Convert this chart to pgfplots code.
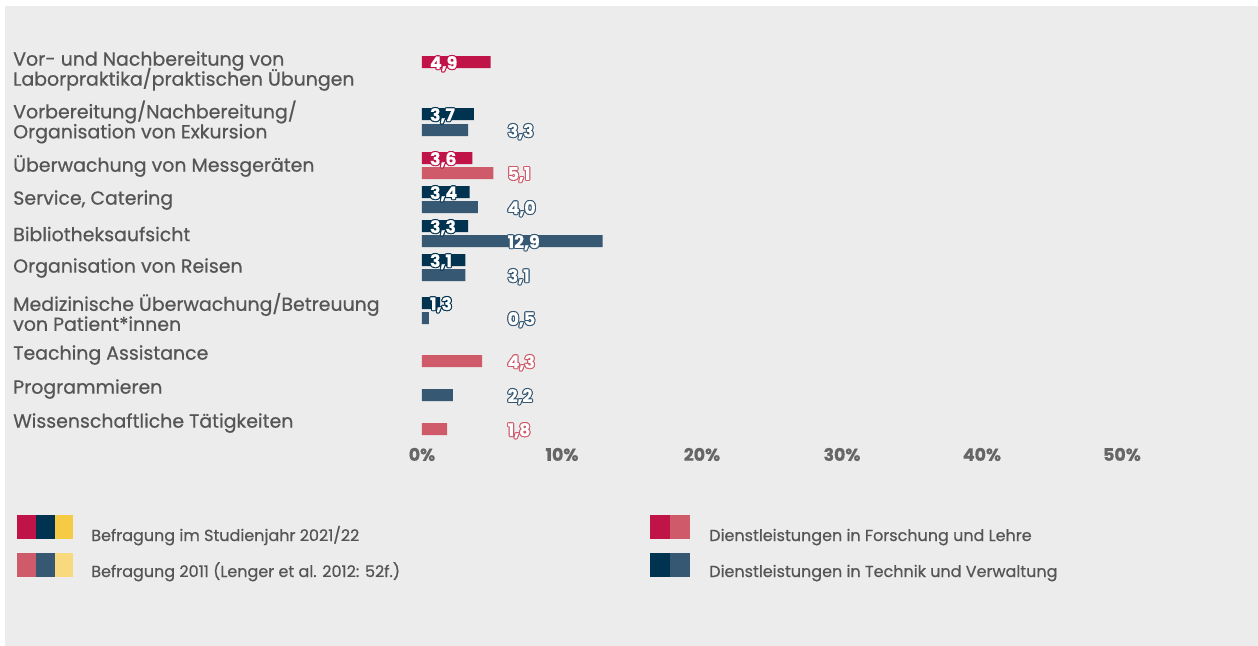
\documentclass[border=0pt]{standalone}
\usepackage{pgfplots}
\pgfplotsset{compat=1.18}
\usepackage{pgfplotstable}
\usepackage{fontspec}
\setmainfont{Poppins}[RawFeature={embolden=0.6}]
\setlength{\lineskiplimit}{-20pt}

\definecolor{bgc}{HTML}{ECECEC}
\definecolor{fl}{HTML}{C01448}
\definecolor{flold}{HTML}{CF5A6A}
\definecolor{tv}{HTML}{003350}
\definecolor{tvold}{HTML}{365873}
\definecolor{ye}{HTML}{F5CB45}
\definecolor{yeold}{HTML}{F9D97E}
\definecolor{txt}{HTML}{555555}
\definecolor{tick}{HTML}{666666}

% outlined white text
\newcommand\outl[2]{\leavevmode
  \rlap{\textcolor{#1}{\kern0.8pt#2}}%
  \rlap{\textcolor{#1}{\kern-0.8pt#2}}%
  \rlap{\textcolor{#1}{\raisebox{0.8pt}{#2}}}%
  \rlap{\textcolor{#1}{\raisebox{-0.8pt}{#2}}}%
  \rlap{\textcolor{#1}{\kern0.57pt\raisebox{0.57pt}{#2}}}%
  \rlap{\textcolor{#1}{\kern-0.57pt\raisebox{0.57pt}{#2}}}%
  \rlap{\textcolor{#1}{\kern0.57pt\raisebox{-0.57pt}{#2}}}%
  \rlap{\textcolor{#1}{\kern-0.57pt\raisebox{-0.57pt}{#2}}}%
  \textcolor{white}{#2}}

% y = bar centre (pixel row), v = value in %
\pgfplotstableread{
v y
4.9 62
3.6 158
}\newFL
\pgfplotstableread{
v y
3.7 114
3.4 192
3.3 226
3.1 260
1.3 303
}\newTV
\pgfplotstableread{
v y
5.1 173
4.3 361
1.8 429
}\oldFL
\pgfplotstableread{
v y
3.3 130
4.0 207
12.9 241
3.1 275
0.5 318
2.2 395
}\oldTV

\pgfplotsset{
  /pgf/number format/assume math mode=true,
  lab/.style={draw=none, no marks, forget plot, point meta=explicit,
    nodes near coords={\outl{#1}{\pgfmathprintnumber[fixed,fixed zerofill,precision=1,use comma]{\pgfplotspointmeta}}},
    nodes near coords align=horizontal,
    every node near coord/.append style={anchor=west, inner sep=0pt, text depth=0pt,
      font=\bfseries\fontsize{13}{14}\selectfont}},
  bars/.style={xbar, bar width=12, bar shift=0pt, draw=none, fill=#1, forget plot}
}

\begin{document}
\begin{tikzpicture}
\begin{scope}[x=0.75pt,y=-0.75pt]
  \fill[white] (0,0) rectangle (1258,646);
  \fill[bgc] (5,6) rectangle (1258,646);
\end{scope}

\begin{axis}[at={(316.5pt,-333.75pt)}, anchor=south west,
  scale only axis, width=525pt, height=303.75pt,
  xmin=0, xmax=50, ymin=40, ymax=445, y dir=reverse,
  axis line style={draw=none}, major tick length=0pt,
  xtick={0,10,...,50},
  xticklabel={\pgfmathprintnumber{\tick}\%},
  xticklabel style={font=\bfseries\fontsize{13}{14}\selectfont, text=tick, inner sep=0pt, yshift=-2pt},
  ytick={71,122,166,200,234,268,312,355,389,423},
  yticklabels={{Vor- und Nachbereitung von\\Laborpraktika/praktischen Übungen},
    {Vorbereitung/Nachbereitung/\\Organisation von Exkursion},
    {Überwachung von Messgeräten},
    {Service, Catering},
    {Bibliotheksaufsicht},
    {Organisation von Reisen},
    {Medizinische Überwachung/Betreuung\\von Patient*innen},
    {Teaching Assistance},
    {Programmieren},
    {Wissenschaftliche Tätigkeiten}},
  yticklabel style={anchor=west, align=left, inner sep=0pt, xshift=-306.75pt,
    text=txt, font=\fontsize{14.2}{15}\selectfont},
]
\addplot[bars=fl] table[x=v, y=y] {\newFL};
\addplot[bars=tv] table[x=v, y=y] {\newTV};
\addplot[bars=flold] table[x=v, y=y] {\oldFL};
\addplot[bars=tvold] table[x=v, y=y] {\oldTV};

\addplot[lab=fl] table[x expr=0.55, y=y, meta=v] {\newFL};
\addplot[lab=tv] table[x expr=0.55, y=y, meta=v] {\newTV};
\addplot[lab=flold] table[x expr=6.1, y=y, meta=v] {\oldFL};
\addplot[lab=tvold] table[x expr=6.1, y=y, meta=v] {\oldTV};
\end{axis}

\begin{scope}[x=0.75pt,y=-0.75pt]
  \fill[fl] (17,515) rectangle (36,539);
  \fill[tv] (36,515) rectangle (55,539);
  \fill[ye] (55,515) rectangle (73,539);
  \fill[flold] (17,553) rectangle (36,577);
  \fill[tvold] (36,553) rectangle (55,577);
  \fill[yeold] (55,553) rectangle (73,577);
  \fill[fl] (650,515) rectangle (670,539);
  \fill[flold] (670,515) rectangle (690,539);
  \fill[tv] (650,553) rectangle (670,577);
  \fill[tvold] (670,553) rectangle (690,577);
  \begin{scope}[every node/.style={anchor=base west, inner sep=0pt, text=txt,
      font=\fontsize{12}{14}\selectfont}]
    \node at (91,541) {Befragung im Studienjahr 2021/22};
    \node at (91,577) {Befragung 2011 (Lenger et al. 2012: 52f.)};
    \node at (709,541) {Dienstleistungen in Forschung und Lehre};
    \node at (709,577) {Dienstleistungen in Technik und Verwaltung};
  \end{scope}
  \pgfresetboundingbox
  \path[use as bounding box] (0,0) rectangle (1258,646);
\end{scope}
\end{tikzpicture}
\end{document}
